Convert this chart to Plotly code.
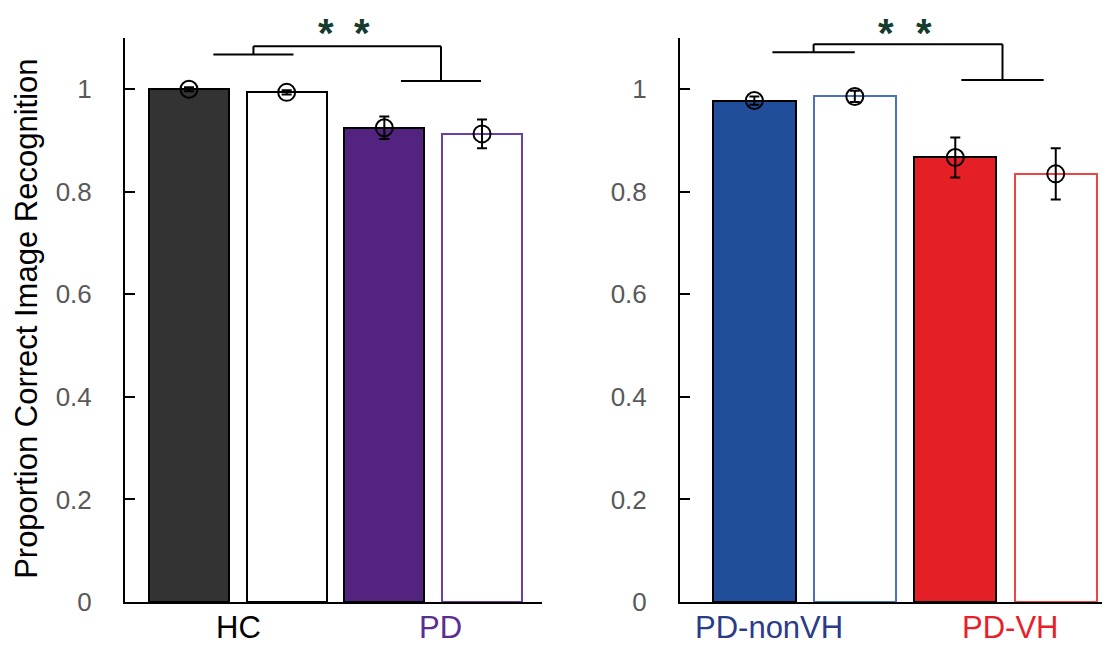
import plotly.graph_objects as go

# ---------------- data ----------------
left_groups = ["HC", "PD"]
left_values = [1.000, 0.994, 0.925, 0.913]
left_errors = [0.004, 0.004, 0.022, 0.028]

right_groups = ["PD-nonVH", "PD-VH"]
right_values = [0.978, 0.986, 0.867, 0.835]
right_errors = [0.008, 0.011, 0.039, 0.050]

y_tick_vals = [0, 0.2, 0.4, 0.6, 0.8, 1.0]
y_tick_text = ["0", "0.2", "0.4", "0.6", "0.8", "1"]
y_title = "Proportion Correct Image Recognition"
sig_text = "*"

# ---------------- styles ----------------
FONT = "Liberation Sans, Arial, Helvetica, sans-serif"
left_fill = ["#333333", "#ffffff", "#52247f", "#ffffff"]
left_line = ["#000000", "#000000", "#000000", "#6a3fa8"]
left_label_colors = ["#000000", "#5b2d92"]
right_fill = ["#214e9a", "#ffffff", "#e41f25", "#ffffff"]
right_line = ["#000000", "#4a72b8", "#000000", "#ef4444"]
right_label_colors = ["#2a3b87", "#e8202a"]
SIG_COLOR = "#163a2c"

# page body has an 8px margin: figure is 8px smaller on each axis
W, H = 1102, 637
positions = [1, 2, 3, 4]
BAR_W = 0.82

fig = go.Figure()


def add_panel(values, errors, fills, lines, xa, ya):
    fig.add_trace(go.Bar(
        x=positions, y=values, width=BAR_W,
        marker=dict(color=fills, line=dict(color=lines, width=2)),
        xaxis=xa, yaxis=ya, showlegend=False, hoverinfo="y",
    ))
    fig.add_trace(go.Scatter(
        x=positions, y=values, mode="markers",
        marker=dict(symbol="circle-open", size=17, color="#000000",
                    line=dict(width=2, color="#000000")),
        error_y=dict(type="data", array=errors, visible=True,
                     thickness=2, width=5, color="#000000"),
        xaxis=xa, yaxis=ya, showlegend=False, hoverinfo="y",
        cliponaxis=False,
    ))


add_panel(left_values, left_errors, left_fill, left_line, "x", "y")
add_panel(right_values, right_errors, right_fill, right_line, "x2", "y2")

yaxis_common = dict(
    range=[0, 1.1], tickvals=y_tick_vals, ticktext=y_tick_text,
    ticks="inside", ticklen=10, tickwidth=2, tickcolor="#000000",
    showline=True, linewidth=2, linecolor="#000000",
    showgrid=False, zeroline=False,
    tickfont=dict(family=FONT, size=26, color="#595959"),
    ticklabelstandoff=26,
)
xaxis_common = dict(
    showline=True, linewidth=2, linecolor="#000000",
    showgrid=False, zeroline=False, showticklabels=False, ticks="",
)

fig.update_layout(
    width=W, height=H,
    margin=dict(l=0, r=0, t=30, b=43),
    paper_bgcolor="#ffffff", plot_bgcolor="#ffffff",
    font=dict(family=FONT),
    bargap=0,
    xaxis=dict(domain=[117 / W, 534 / W], range=[0.345, 4.614], **xaxis_common),
    yaxis=dict(anchor="x", **yaxis_common),
    xaxis2=dict(domain=[672 / W, 1.0], range=[0.26, 4.54], anchor="y2", **xaxis_common),
    yaxis2=dict(anchor="x2", **yaxis_common),
)

annotations = []
# group labels
for xa, groups, colors, xs in [
    ("x", left_groups, left_label_colors, [1.51, 3.57]),
    ("x2", right_groups, right_label_colors, [1.15, 3.54]),
]:
    for g, c, xv in zip(groups, colors, xs):
        annotations.append(dict(
            x=xv, y=-0.046, xref=xa, yref="paper", text=g, showarrow=False,
            xanchor="center", yanchor="middle",
            font=dict(family=FONT, size=31, color=c),
        ))

# y-axis title
annotations.append(dict(
    x=19 / W, y=0.502, xref="paper", yref="paper", text=y_title,
    showarrow=False, textangle=-90, xanchor="center", yanchor="middle",
    font=dict(family=FONT, size=31, color="#000000"),
))

# significance asterisks
for xa, xs in [("x", [2.4, 2.77]), ("x2", [2.31, 2.69])]:
    for xv in xs:
        annotations.append(dict(
            x=xv, y=1.0506, xref=xa, yref="paper", text="<b>" + sig_text + "</b>",
            showarrow=False, xanchor="center", yanchor="top",
            font=dict(family=FONT, size=40, color=SIG_COLOR),
        ))

fig.update_layout(annotations=annotations)

# significance brackets
shapes = []
bracket_specs = [
    # xref, yref, left arm centre, right arm centre, left level, right level, top
    ("x", "y", 1.66, 3.58, 1.068, 1.016, 1.084),
    ("x2", "y2", 1.59, 3.47, 1.072, 1.018, 1.088),
]
half = BAR_W / 2
for xr, yr, cl, cr, yl, yrr, top in bracket_specs:
    segs = [
        (cl - half, yl, cl + half, yl),
        (cl, yl, cl, top),
        (cl, top, cr, top),
        (cr, top, cr, yrr),
        (cr - half, yrr, cr + half, yrr),
    ]
    for x0, y0, x1, y1 in segs:
        shapes.append(dict(type="line", xref=xr, yref=yr, x0=x0, y0=y0, x1=x1, y1=y1,
                           line=dict(color="#000000", width=2)))
fig.update_layout(shapes=shapes)

fig.write_html("out.html")
